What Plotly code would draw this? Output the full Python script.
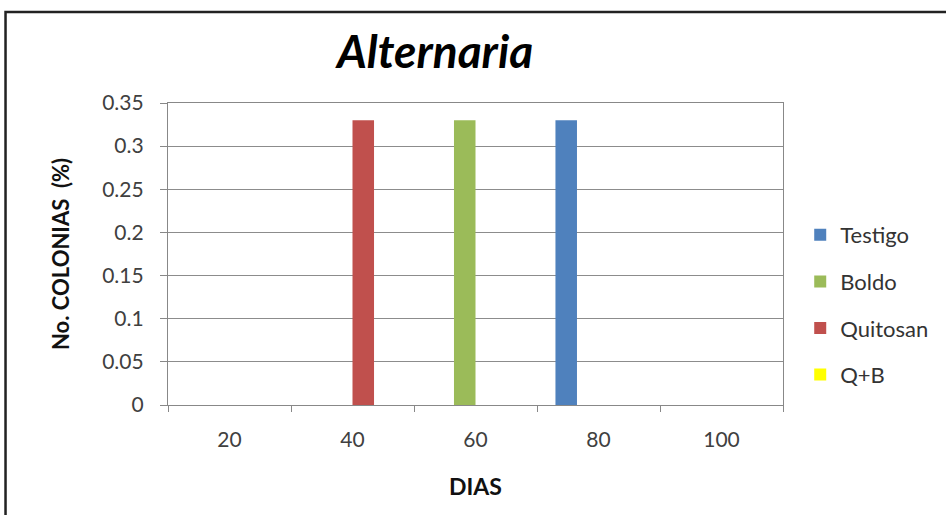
import plotly.graph_objects as go

dias = ["20", "40", "60", "80", "100"]
testigo = [0, 0, 0, 0.33, 0]
boldo = [0, 0, 0.33, 0, 0]
quitosan = [0, 0.33, 0, 0, 0]
q_b = [0, 0, 0, 0, 0]

series = [
    ("Testigo", testigo, "#4F81BD"),
    ("Boldo", boldo, "#9BBB59"),
    ("Quitosan", quitosan, "#C0504D"),
    ("Q+B", q_b, "#FFFF00"),
]

W, H = 946, 515
ml, mr, mt, mb = 168, 161, 103, 110
pw, ph = W - ml - mr, H - mt - mb

fig = go.Figure()
for name, vals, col in series:
    fig.add_trace(go.Bar(
        x=dias, y=vals, name=name, legendgroup=name,
        marker=dict(color=col, line=dict(width=0)),
    ))

font = "Lato, 'Open Sans', sans-serif"

# outer chart frame, expressed in paper coordinates of the plot area
def px_x(p):
    return (p - ml) / pw

def px_y(p):
    return (H - mb - p) / ph

fig.add_shape(type="rect", xref="paper", yref="paper",
              x0=px_x(5), x1=px_x(960), y0=px_y(560), y1=px_y(12),
              line=dict(color="#222222", width=2.5), fillcolor="rgba(0,0,0,0)")

fig.update_layout(
    width=W, height=H,
    margin=dict(l=ml, r=mr, t=mt, b=mb),
    paper_bgcolor="white", plot_bgcolor="white",
    barmode="group", bargap=0.3, bargroupgap=0,
    font=dict(family=font, color="#404040", size=21),
    title=dict(text="<b><i>Alternaria</i></b>", xref="container", x=435 / W,
               xanchor="center", y=1 - 52 / H, yanchor="middle",
               font=dict(family=font, size=46, color="#000000")),
    legend=dict(x=1.028, xanchor="left", y=px_y(305), yanchor="middle",
                font=dict(size=22, color="#333333"), tracegroupgap=15,
                itemwidth=30, bgcolor="rgba(0,0,0,0)"),
    showlegend=True,
)
fig.update_xaxes(
    type="category", tickson="boundaries", ticks="outside", ticklen=6,
    tickcolor="#888888", showline=True, linecolor="#888888", linewidth=1.2,
    mirror=True, showgrid=False, ticklabelstandoff=16,
    tickfont=dict(size=21, color="#404040"),
    title=dict(text="<b>DIAS</b>", font=dict(size=23, color="#111111"), standoff=28),
)
fig.update_yaxes(
    range=[0, 0.35], dtick=0.05, ticks="outside", ticklen=7, tickcolor="#888888",
    showline=True, linecolor="#888888", linewidth=1.2, mirror=True,
    showgrid=True, gridcolor="#8c8c8c", gridwidth=1, zeroline=False,
    ticklabelstandoff=12,
    tickfont=dict(size=21, color="#404040"),
    title=dict(text="<b>No. COLONIAS  (%)</b>", font=dict(size=22, color="#111111"), standoff=26),
)

fig.write_html("out.html")
